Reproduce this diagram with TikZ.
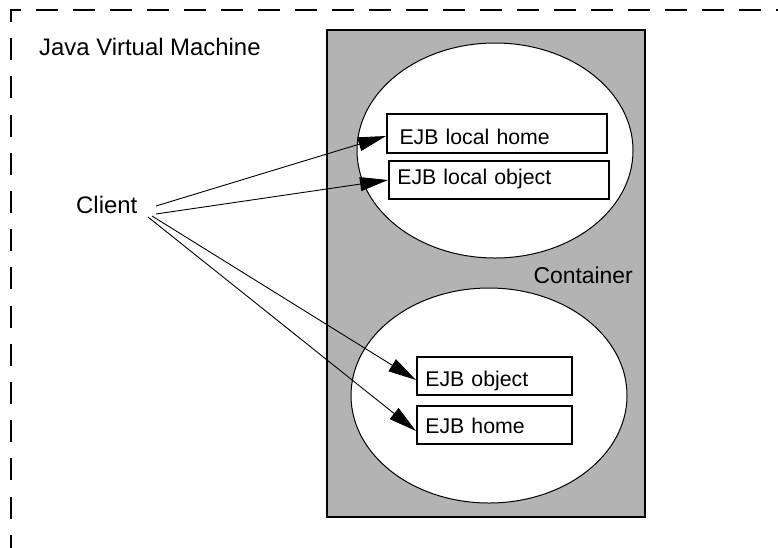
\documentclass[tikz,border=0pt]{standalone}
\usepackage{fontspec}
\setmainfont{Liberation Sans}
\usetikzlibrary{arrows.meta}
\definecolor{contgray}{RGB}{179,179,179}
\begin{document}
\begin{tikzpicture}[x=1pt,y=-1pt,
  lbl/.style={inner sep=0pt,font=\fontsize{23.9}{26}\selectfont},
  ejbbox/.style={draw=black,line width=2pt,fill=white,inner ysep=0pt,align=left,
    font=\fontsize{21.3}{24}\selectfont},
  oval/.style={draw=black,line width=1pt,fill=white},
  conn/.style={line width=0.9pt,-{Triangle[length=28pt,width=14pt]}},
  jvm/.style={line width=2pt}]
\useasboundingbox (0,0) rectangle (778,547);
% JVM dashed border
\draw[jvm,dash pattern=on 22pt off 16.2pt,dash phase=10pt] (11,10) -- (11,560);
\draw[jvm,dash pattern=on 22pt off 15pt,dash phase=11pt] (10,10) -- (790,10);
\node[lbl,anchor=base west] (jvmlabel) at (39,55) {Java Virtual Machine};
% Container
\draw[line width=2pt,fill=contgray] (327,30) rectangle (645,517);
\node[lbl,anchor=base east,font=\fontsize{22.9}{26}\selectfont] (container) at (633,283) {Container};
% Ellipses
\draw[oval] (495,150.5) ellipse [x radius=138, y radius=107.5];
\draw[oval] (489,395.5) ellipse [x radius=138, y radius=107.5];
% Boxes
\node[ejbbox,anchor=north west,inner xsep=12.5pt,text width=195pt,text height=30pt,text depth=9pt] (lh) at (386,113) {EJB local home};
\node[ejbbox,anchor=north west,inner xsep=8.3pt,text width=203.4pt,text height=23pt,text depth=15pt] (lo) at (388,160) {EJB local object};
\node[ejbbox,anchor=north west,inner xsep=8.3pt,text width=138.4pt,text height=29pt,text depth=9pt] (eo) at (416,356) {EJB object};
\node[ejbbox,anchor=north west,inner xsep=8.3pt,text width=138.4pt,text height=27pt,text depth=11pt] (eh) at (416,405) {EJB home};
% Client
\node[lbl,anchor=base west] (client) at (76,213) {Client};
\coordinate (c1) at (156,206);
\coordinate (c2) at (156,214);
\coordinate (c3) at (152,216);
\coordinate (c4) at (148,217);
% Connectors
\draw[conn] (c1) -- ([yshift=-2.5pt]lh.west);
\draw[conn] (c2) -- (lo.west);
\draw[conn] (c3) -- ([yshift=-4pt]eo.west);
\draw[conn] (c4) -- ([yshift=-6pt]eh.west);
\end{tikzpicture}
\end{document}
